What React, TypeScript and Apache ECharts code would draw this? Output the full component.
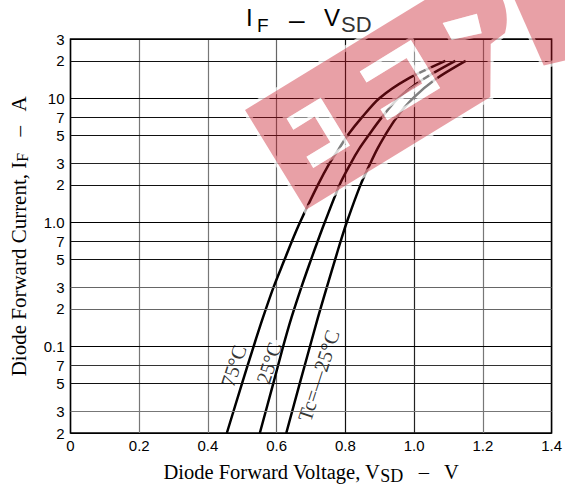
import React, { useEffect, useRef } from "react";
import * as echarts from "echarts";

// ---- data ----
const currentA = [0.02, 0.05, 0.1, 0.17, 0.3, 0.5, 0.7, 1.0, 2, 3, 3.9, 5, 7, 10, 14.2, 20];
const vsdTc75 = [0.455, 0.499, 0.533, 0.56, 0.591, 0.623, 0.644, 0.668, 0.72, 0.754, 0.781, 0.806, 0.848, 0.899, 0.979, 1.091];
const vsdTc25 = [0.551, 0.59, 0.619, 0.643, 0.672, 0.7, 0.719, 0.74, 0.783, 0.816, 0.84, 0.867, 0.906, 0.954, 1.026, 1.12];
const vsdTcM25 = [0.628, 0.667, 0.697, 0.72, 0.746, 0.77, 0.786, 0.804, 0.844, 0.873, 0.893, 0.915, 0.949, 0.997, 1.062, 1.15];
const curveLabels = ["75°C", "25°C", "Tc=—25°C"];
const labelAt = [
  [0.475, 0.0695],
  [0.578, 0.0734],
  [0.722, 0.058],
];
const yTickValues = [30, 20, 10, 7, 5, 3, 2, 1, 0.7, 0.5, 0.3, 0.2, 0.1, 0.07, 0.05, 0.03, 0.02];
const yTickLabels = ["3", "2", "10", "7", "5", "3", "2", "1.0", "7", "5", "3", "2", "0.1", "7", "5", "3", "2"];
const xMin = 0;
const xMax = 1.4;
const xStep = 0.2;

// ---- styles ----
const yLineColors = ["#000", "#111", "#000", "#111", "#111", "#222", "#111", "#000", "#111", "#111", "#666", "#666", "#000", "#333", "#111", "#777", "#000"];
const xLineColors = ["#000", "#777", "#777", "#666", "#111", "#222", "#777", "#000"];
const SERIF = "'Liberation Serif', 'Times New Roman', serif";
const SANS = "'Liberation Sans', Arial, sans-serif";

// watermark (local, band-aligned frame)
const BAND_D =
  "M0 0 L255 0 C280 4 288 45 262 70 L244 72 L216 117 L0 117 Z " +
  "M31 29 L31 42 L56 42 L56 72 L28 72 L28 85 L71 85 L71 29 Z " +
  "M118 27 L118 40 L165 40 L165 70 L116 70 L116 83 L178 83 L178 27 Z " +
  "M214 29 L213 48 L242 58 L248 39 Z";
const W_PTS = [[290, 28], [345, 28], [345, 140], [278, 118]];
const HOLES = [
  [[31, 29], [31, 42], [56, 42], [56, 72], [28, 72], [28, 85], [71, 85], [71, 29]],
  [[118, 27], [118, 40], [165, 40], [165, 70], [116, 70], [116, 83], [178, 83], [178, 27]],
  [[214, 29], [213, 48], [242, 58], [248, 39]],
];

let registered = false;
function ensureShape() {
  if (registered) return;
  echarts.graphic.registerShape("eepwBand", echarts.graphic.extendPath(BAND_D, {}) as any);
  registered = true;
}

export default function App() {
  const ref = useRef<HTMLDivElement>(null);
  useEffect(() => {
    if (!ref.current) return;
    ensureShape();
    const chart = echarts.init(ref.current, undefined, { renderer: "svg" });
    const curves = [vsdTc75, vsdTc25, vsdTcM25];
    const RED = "rgba(197,18,32,0.4)";
    const HALO = { fill: "none", stroke: "#fff", lineWidth: 6, opacity: 0.7 };
    const option: any = {
      animation: false,
      backgroundColor: "#fff",
      grid: { left: 69, top: 39, width: 488, height: 399, show: true, borderColor: "#000", borderWidth: 1.5 },
      xAxis: {
        type: "value",
        min: xMin,
        max: xMax,
        interval: xStep,
        axisLine: { show: false },
        axisTick: { show: false },
        axisLabel: {
          margin: 5,
          fontFamily: SANS,
          fontSize: 15,
          color: "#000",
          showMaxLabel: true,
          formatter: (v: number) => (v === 0 ? "0" : v.toFixed(1)),
        },
        splitLine: { show: true, lineStyle: { color: xLineColors, width: 1.2 } },
        name: "Diode Forward Voltage, V{s|SD}   –   V",
        nameLocation: "middle",
        nameGap: 26,
        nameTextStyle: {
          fontFamily: SERIF,
          fontSize: 20.5,
          color: "#000",
          rich: { s: { fontFamily: SERIF, fontSize: 18, color: "#000", padding: [8, 0, 0, 0] } },
        },
      },
      yAxis: {
        type: "log",
        logBase: 10,
        min: 0.02,
        max: 30,
        axisLine: { show: false },
        axisTick: { show: false },
        axisLabel: { show: false },
        splitLine: { show: false },
        name: "Diode Forward Current, I{s|F}   –   A",
        nameLocation: "middle",
        nameGap: 40,
        nameRotate: 90,
        nameTextStyle: {
          fontFamily: SERIF,
          fontSize: 21,
          color: "#000",
          rich: { s: { fontFamily: SERIF, fontSize: 16, color: "#000", padding: [8, 0, 0, 0] } },
        },
      },
      series: [
        {
          type: "line",
          z: 1,
          silent: true,
          showSymbol: false,
          data: [[0, 1]],
          lineStyle: { opacity: 0 },
          markLine: {
            silent: true,
            symbol: ["none", "none"],
            animation: false,
            label: { show: true, position: "start", distance: 6, fontFamily: SANS, fontSize: 15, color: "#000" },
            data: yTickValues.map((v, i) => ({
              yAxis: v,
              label: { formatter: yTickLabels[i] },
              lineStyle: { color: yLineColors[i], width: 1.2, type: "solid" },
            })),
          },
        },
        {
          type: "scatter",
          z: 2,
          silent: true,
          symbol: "circle",
          symbolSize: 1,
          itemStyle: { color: "rgba(255,255,255,0)" },
          data: labelAt.map((p, i) => ({ value: p, name: curveLabels[i] })),
          label: {
            show: true,
            position: "inside",
            rotate: 72,
            formatter: (p: any) => p.name,
            fontFamily: SERIF,
            fontSize: 20.5,
            color: "#000",
            backgroundColor: "#fff",
            padding: [0, 3],
          },
        },
        ...curves.map((vs, k) => ({
          type: "line",
          name: curveLabels[k],
          z: 3,
          silent: true,
          showSymbol: false,
          smooth: 0.3,
          data: currentA.map((c, i) => [vs[i], c]),
          lineStyle: { color: "#000", width: 2.5 },
        })),
      ],
      graphic: [
        {
          type: "group",
          x: 245,
          y: 110,
          rotation: (31.5 * Math.PI) / 180,
          silent: true,
          children: [
            { type: "eepwBand", z: 50, style: HALO },
            { type: "polygon", z: 50, shape: { points: W_PTS }, style: HALO },
            { type: "eepwBand", z: 51, style: { fill: RED } },
            { type: "polygon", z: 51, shape: { points: W_PTS }, style: { fill: RED } },
            ...HOLES.map((h) => ({ type: "polygon", z: 52, shape: { points: h }, style: { fill: "rgba(255,255,255,0.5)" } })),
          ],
        },
        { type: "text", z: 60, x: 246, y: 17, style: { text: "I", font: `24px ${SANS}`, fill: "#000", textVerticalAlign: "middle" } },
        { type: "text", z: 60, x: 257, y: 25.5, style: { text: "F", font: `19px ${SANS}`, fill: "#000", textVerticalAlign: "middle" } },
        { type: "text", z: 60, x: 289, y: 19, style: { text: "–", font: `28px ${SANS}`, fill: "#000", textVerticalAlign: "middle" } },
        { type: "text", z: 60, x: 324, y: 17, style: { text: "V", font: `24px ${SANS}`, fill: "#000", textVerticalAlign: "middle" } },
        { type: "text", z: 60, x: 341, y: 24.5, style: { text: "SD", font: `22px ${SANS}`, fill: "#333", textVerticalAlign: "middle" } },
      ],
    };
    chart.setOption(option);
    return () => chart.dispose();
  }, []);
  return <div ref={ref} style={{ position: "absolute", left: 0, top: 0, width: 565, height: 490 }} />;
}
